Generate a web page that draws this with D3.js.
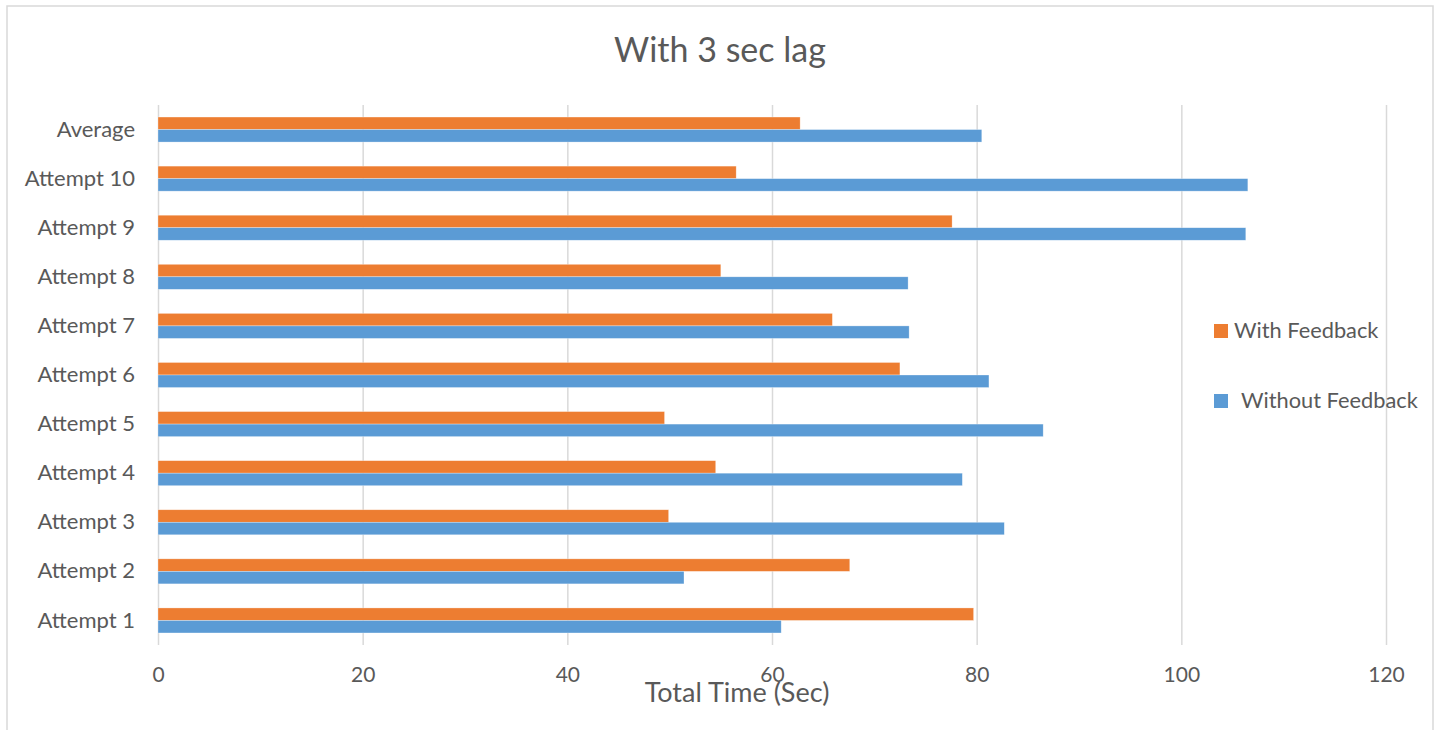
<!DOCTYPE html>
<html>
<head>
<meta charset="utf-8">
<script src="https://cdn.jsdelivr.net/npm/d3@7"></script>
<style>
  html, body { margin: 0; padding: 0; background: #fff; }
  svg text { font-family: Lato, "Open Sans", sans-serif; fill: #595959; }
</style>
</head>
<body>
<svg id="chart" width="1435" height="730"></svg>
<script>
// ---- data ----
const categories = ["Attempt 1", "Attempt 2", "Attempt 3", "Attempt 4", "Attempt 5",
  "Attempt 6", "Attempt 7", "Attempt 8", "Attempt 9", "Attempt 10", "Average"];
const withFeedback =    [79.7, 67.6, 49.9, 54.5, 49.5, 72.5, 65.9, 55.0, 77.6, 56.5, 62.75];
const withoutFeedback = [60.9, 51.4, 82.7, 78.6, 86.5, 81.2, 73.4, 73.3, 106.3, 106.5, 80.5];
const seriesNames = ["With Feedback", "Without Feedback"];
const xTicks = [0, 20, 40, 60, 80, 100, 120];
const titleText = "With 3 sec lag";
const xAxisTitle = "Total Time (Sec)";

const colors = { "With Feedback": "#ED7D31", "Without Feedback": "#5B9BD5" };

const svg = d3.select("#chart");

// chart border
svg.append("rect")
  .attr("x", 7).attr("y", 6).attr("width", 1426).attr("height", 730)
  .attr("fill", "#fff").attr("stroke", "#D9D9D9").attr("stroke-width", 1.5);

const plot = { left: 158, right: 1386, top: 105, bottom: 645 };

const x = d3.scaleLinear().domain([0, 120]).range([plot.left, plot.right]);
const y = d3.scaleBand()
  .domain(categories.slice().reverse())
  .range([plot.top, plot.bottom])
  .paddingInner(0.49).paddingOuter(0.245);
const ySub = d3.scaleBand().domain(seriesNames).range([0, y.bandwidth()]);

// gridlines / x axis
const xAxis = svg.append("g")
  .attr("transform", `translate(0,${plot.bottom})`)
  .call(d3.axisBottom(x).tickValues(xTicks).tickSize(-(plot.bottom - plot.top)).tickPadding(22));
xAxis.select(".domain").remove();
xAxis.selectAll(".tick line").attr("stroke", "#D9D9D9").attr("stroke-width", 1.5);
xAxis.selectAll(".tick text")
  .attr("font-size", 21).attr("fill", "#595959")
  .attr("font-family", "Lato, sans-serif");

// y axis (category labels)
const yAxis = svg.append("g")
  .attr("transform", `translate(${plot.left},0)`)
  .call(d3.axisLeft(y).tickSize(0).tickPadding(23));
yAxis.select(".domain").remove();
yAxis.selectAll(".tick text")
  .attr("font-size", 22).attr("fill", "#595959")
  .attr("font-family", "Lato, sans-serif");

// bars
const rows = categories.map((c, i) => ({
  cat: c,
  vals: [
    { name: seriesNames[0], v: withFeedback[i] },
    { name: seriesNames[1], v: withoutFeedback[i] }
  ]
}));

const grp = svg.append("g").selectAll("g").data(rows).join("g")
  .attr("transform", d => `translate(0,${y(d.cat)})`);
grp.selectAll("rect").data(d => d.vals).join("rect")
  .attr("x", x(0))
  .attr("y", d => ySub(d.name))
  .attr("width", d => x(d.v) - x(0))
  .attr("height", ySub.bandwidth())
  .attr("fill", d => colors[d.name])
  .attr("stroke", "#fff").attr("stroke-opacity", 0.5).attr("stroke-width", 0.6);

// title
svg.append("text")
  .attr("x", 720).attr("y", 62)
  .attr("text-anchor", "middle")
  .attr("font-size", 34)
  .text(titleText);

// x axis title
svg.append("text")
  .attr("x", 737).attr("y", 702)
  .attr("text-anchor", "middle")
  .attr("font-size", 27)
  .text(xAxisTitle);

// legend
const legendItems = [
  { name: seriesNames[0], label: "With Feedback", sy: 324, tx: 1234, ty: 338 },
  { name: seriesNames[1], label: "Without Feedback", sy: 394, tx: 1241, ty: 408 }
];
const lg = svg.append("g").selectAll("g").data(legendItems).join("g");
lg.append("rect")
  .attr("x", 1214).attr("y", d => d.sy)
  .attr("width", 14).attr("height", 14)
  .attr("fill", d => colors[d.name]);
lg.append("text")
  .attr("x", d => d.tx).attr("y", d => d.ty)
  .attr("font-size", 21.8)
  .text(d => d.label);
</script>
</body>
</html>
